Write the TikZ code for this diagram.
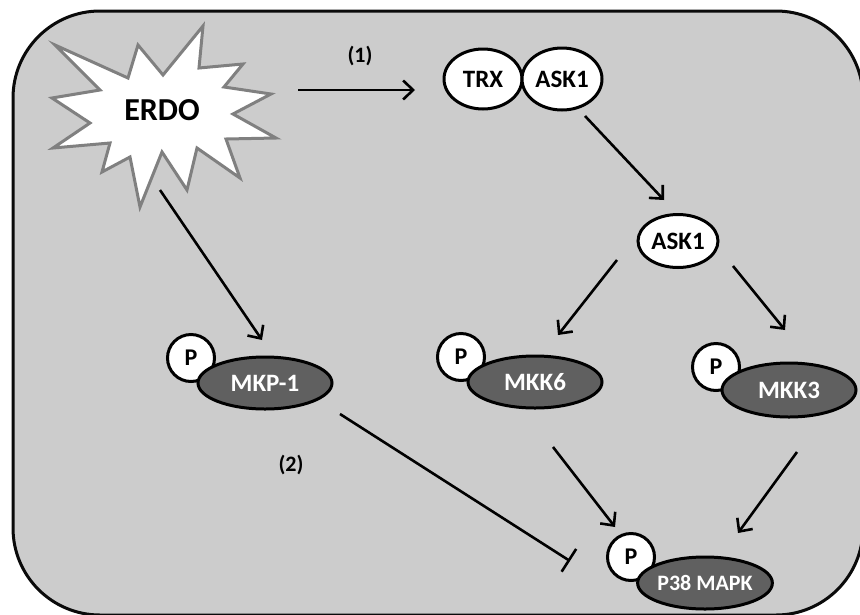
\documentclass[tikz,border=0pt]{standalone}
\usepackage{fontspec}
\setmainfont{Carlito}
\usepackage{xcolor}
\usepackage{tikz}
\usetikzlibrary{positioning,arrows.meta,shapes.geometric}
\definecolor{cellbg}{RGB}{204,204,204}
\definecolor{cellborder}{RGB}{10,10,10}
\definecolor{starborder}{RGB}{128,128,128}
\definecolor{kinasecol}{RGB}{96,96,96}

\begin{document}
\begin{tikzpicture}[
        x=1pt, y=-1pt,
        font=\bfseries\fontsize{25}{28}\selectfont,
        >={Straight Barb[length=10pt,width=19pt]},
        bound/.style={
                ellipse, draw=black, line width=3pt,
                fill=white, inner sep=0pt,
                minimum width=78pt, minimum height=60pt
            },
        phos/.style={
                circle, draw=black, line width=3pt,
                fill=white, inner sep=0pt, minimum size=47pt,
                font=\bfseries\fontsize{24}{26}\selectfont
            },
        kinase/.style={
                ellipse, draw=black, line width=3pt,
                fill=kinasecol, text=white, inner sep=0pt,
                minimum width=134pt, minimum height=52pt
            },
        steplabel/.style={font=\bfseries\fontsize{22}{24}\selectfont},
        arrow/.style={->, line width=2.6pt, draw=black},
        inhibit/.style={-{Bar[width=27pt]}, line width=2.6pt, draw=black}
        ]

        \useasboundingbox (0,0) rectangle (860,614);

        % ===== Cell background =====
        \draw[fill=cellbg, draw=cellborder, line width=3pt, rounded corners=87pt]
        (13,11) rectangle (863,615);

        % ===== ERDO burst =====
        \draw[fill=white, draw=starborder, line width=3pt, line join=miter]
        (55,45) -- (128,78) -- (138,45) -- (163,75) -- (203,26) -- (199,68)
        -- (243,64) -- (224,87) -- (271,94) -- (233,114) -- (276,138)
        -- (226,139) -- (240,178) -- (197,148) -- (187,190) -- (162,152)
        -- (140,207) -- (130,157) -- (102,172) -- (110,143) -- (53,148)
        -- (90,123) -- (52,98) -- (100,90) -- cycle;
        \node[minimum width=224pt, minimum height=182pt, inner sep=0pt] (erdo) at (163,116) {};
        \node[font=\bfseries\fontsize{32}{36}\selectfont] (erdotext) at (162,110) {ERDO};

        % ===== TRX / ASK1 complex =====
        \node[bound] (trx) at (483,79) {TRX};
        \node[bound, minimum width=80pt, minimum height=62pt] (askbound) at (562,79) {ASK1};

        % ===== free ASK1 =====
        \node[bound, minimum width=80pt, minimum height=53pt] (askfree) at (678,241) {ASK1};

        % ===== Phosphorylated kinases =====
        \node[phos] (pmkp) at (191,358) {P};
        \node[kinase] (mkp) at (265,383) {MKP-1};

        \node[phos] (pmkk6) at (461,357) {P};
        \node[kinase] (mkk6) at (535,382) {MKK6};

        \node[phos] (pmkk3) at (716,367) {P};
        \node[kinase, minimum height=54pt] (mkk3) at (789,390) {MKK3};

        \node[phos] (pp38) at (631,557) {P};
        \node[kinase, font=\bfseries\fontsize{22}{24}\selectfont] (p38) at (705,583) {P38 MAPK};

        % ===== Step labels =====
        \node[steplabel] (stepone) at (360,56) {(1)};
        \node[steplabel] (steptwo) at (291,465) {(2)};

        % ===== Arrows =====
        \draw[arrow] ([shift={(135,-26)}]erdo.center) -- ([shift={(-68,11)}]trx.center);
        \draw[arrow] ([shift={(23,37)}]askbound.center) -- ([shift={(-14,-41)}]askfree.center);
        \draw[arrow] ([shift={(-61,19)}]askfree.center) -- ([shift={(23,-47)}]mkk6.center);
        \draw[arrow] ([shift={(55,25)}]askfree.center) -- ([shift={(-4,-60)}]mkk3.center);
        \draw[arrow] ([shift={(-3,74)}]erdo.center) -- ([shift={(-3,-43)}]mkp.center);
        \draw[arrow] ([shift={(18,65)}]mkk6.center) -- ([shift={(-16,-30)}]pp38.center);
        \draw[arrow] ([shift={(8,62)}]mkk3.center) -- ([shift={(33,-50)}]p38.center);

        % ===== Inhibition of P38 by MKP-1 =====
        \draw[inhibit] ([shift={(75,31)}]mkp.center) -- ([shift={(-61,4)}]pp38.center);

\end{tikzpicture}
\end{document}
